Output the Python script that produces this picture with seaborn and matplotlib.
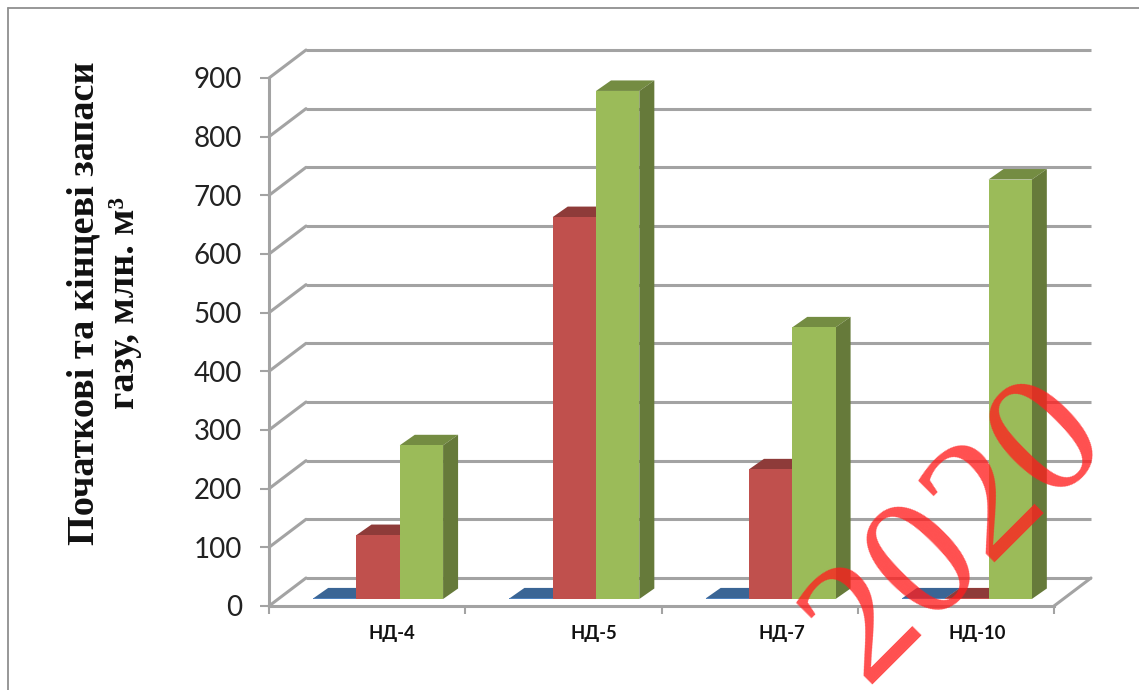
import matplotlib
matplotlib.use("Agg")
import matplotlib.pyplot as plt
from matplotlib.lines import Line2D
from matplotlib.patches import Polygon
from matplotlib.transforms import Affine2D
import pandas as pd
import seaborn as sns

# Gas reserves per deposit section, mln m3
sections = ["НД-4", "НД-5", "НД-7", "НД-10"]
series_names = ["Ряд 1", "Ряд 2", "Ряд 3"]
series_1 = [1, 1, 1, 1]
series_2 = [109, 651, 221, 1]
series_3 = [262, 866, 463, 715]
y_ticks = [0, 100, 200, 300, 400, 500, 600, 700, 800, 900]

front_colors = ["#4F81BD", "#C0504D", "#9BBB59"]
top_colors = ["#3A6595", "#8E3B39", "#748C42"]
side_colors = ["#2F5078", "#7A3230", "#667A3A"]
GRID = "#A3A3A3"

W, H = 1139, 690
sns.set_theme(style="white")
fig = plt.figure(figsize=(W / 100, H / 100), dpi=100)
fig.patch.set_facecolor("white")

# Front plane of the 3D box, in pixels of the figure
left, right, top, bottom = 269, 1054, 78, 606
ax = fig.add_axes([left / W, 1 - bottom / H, (right - left) / W, (bottom - top) / H])
ax.patch.set_alpha(0)

rows = []
for name, vals in zip(series_names, [series_1, series_2, series_3]):
    rows += [{"section": s, "series": name, "value": v} for s, v in zip(sections, vals)]
df = pd.DataFrame(rows)

sns.barplot(data=df, x="section", y="value", hue="series", ax=ax, width=0.662, gap=0,
            saturation=1, palette=front_colors, legend=False, linewidth=0)
ax.set_xlim(-0.5, 3.5)
ax.set_ylim(0, 900)
ax.set_xlabel("")

# Depth of the box and of the bars, applied after the data transform
back_wall = ax.transData + Affine2D().translate(37, 28)
bar_plane = ax.transData + Affine2D().translate(11, 7)
DX = 15 / ((right - left) / 4)
DY = 10.5 / ((bottom - top) / 900)

# Back wall gridlines, the slanted wall edges and the floor outline
BOX_DX = 37 / ((right - left) / 4)
BOX_DY = 28 / ((bottom - top) / 900)
for v in y_ticks:
    ax.plot([-0.5, 3.5], [v, v], color=GRID, lw=2.2, transform=back_wall, clip_on=False,
            zorder=1, solid_capstyle="butt")
    ax.plot([-0.5, -0.5 + BOX_DX], [v, v + BOX_DY], color=GRID, lw=2.2, clip_on=False, zorder=1)
ax.plot([3.5, 3.5 + BOX_DX], [0, BOX_DY], color=GRID, lw=2.2, clip_on=False, zorder=1)

# Extrude every bar: top and side faces follow the bar drawn by seaborn
for i, container in enumerate(ax.containers):
    for bar in container:
        x0, w, h = bar.get_x(), bar.get_width(), bar.get_height()
        x1 = x0 + w
        bar.set_transform(bar_plane)
        bar.set_clip_on(False)
        bar.set_zorder(3 + i + 0.5)
        ax.add_patch(Polygon([(x0, h), (x1, h), (x1 + DX, h + DY), (x0 + DX, h + DY)],
                             closed=True, fc=top_colors[i], ec="none", transform=bar_plane,
                             clip_on=False, zorder=3 + i))
        ax.add_patch(Polygon([(x1, 0), (x1, h), (x1 + DX, h + DY), (x1 + DX, DY)],
                             closed=True, fc=side_colors[i], ec="none", transform=bar_plane,
                             clip_on=False, zorder=3 + i))

# Axes of the front plane
for s in ["top", "right"]:
    ax.spines[s].set_visible(False)
for s in ["left", "bottom"]:
    ax.spines[s].set_color(GRID)
    ax.spines[s].set_linewidth(2.2)
    ax.spines[s].set_zorder(2)

ax.set_yticks(y_ticks)
ax.set_yticklabels([str(v) for v in y_ticks], family="Lato", fontsize=20, color="#222222")
ax.tick_params(axis="y", length=6.5, width=1.5, color=GRID, pad=13, left=True)
ax.set_xticks([-0.5, 0.5, 1.5, 2.5, 3.5], labels=[])
ax.tick_params(axis="x", length=6, width=1.5, color=GRID, bottom=True)

# Category labels sit right of their group centres, as in the front-plane layout
label_nudge = [25, 30, 22, 21]
for pos, name, nudge in zip(range(4), sections, label_nudge):
    shift = ax.get_xaxis_transform() + Affine2D().translate(nudge, -28)
    ax.text(pos, 0, name, transform=shift, family="Lato", fontweight="bold",
            fontsize=13.3, color="#111111", ha="center", va="center", clip_on=False)

ax.set_ylabel("Початкові та кінцеві запаси\nгазу, млн. м³", family="Liberation Serif",
              fontweight="bold", fontsize=27.5, color="#111111", linespacing=1.2,
              ha="center", va="center")
ax.yaxis.set_label_coords((104 - left) / (right - left), (bottom - 303) / (bottom - top))

# Outer frame of the chart area: only its top and left edges fall inside the figure
frame_x = 7.5 / W
frame_y = 1 - 7.5 / H
fig.add_artist(Line2D([frame_x, frame_x], [0, frame_y], color="#8F8F8F", lw=1.3))
fig.add_artist(Line2D([frame_x, 1], [frame_y, frame_y], color="#8F8F8F", lw=1.3))

# Year stamp across the lower right corner
fig.text(958 / W, 1 - 532 / H, "2020", family="Liberation Serif", fontsize=125,
         color="#FF1E1E", alpha=0.78, rotation=45, rotation_mode="anchor",
         ha="center", va="center", zorder=20)

fig.savefig("out.png", dpi=100)
